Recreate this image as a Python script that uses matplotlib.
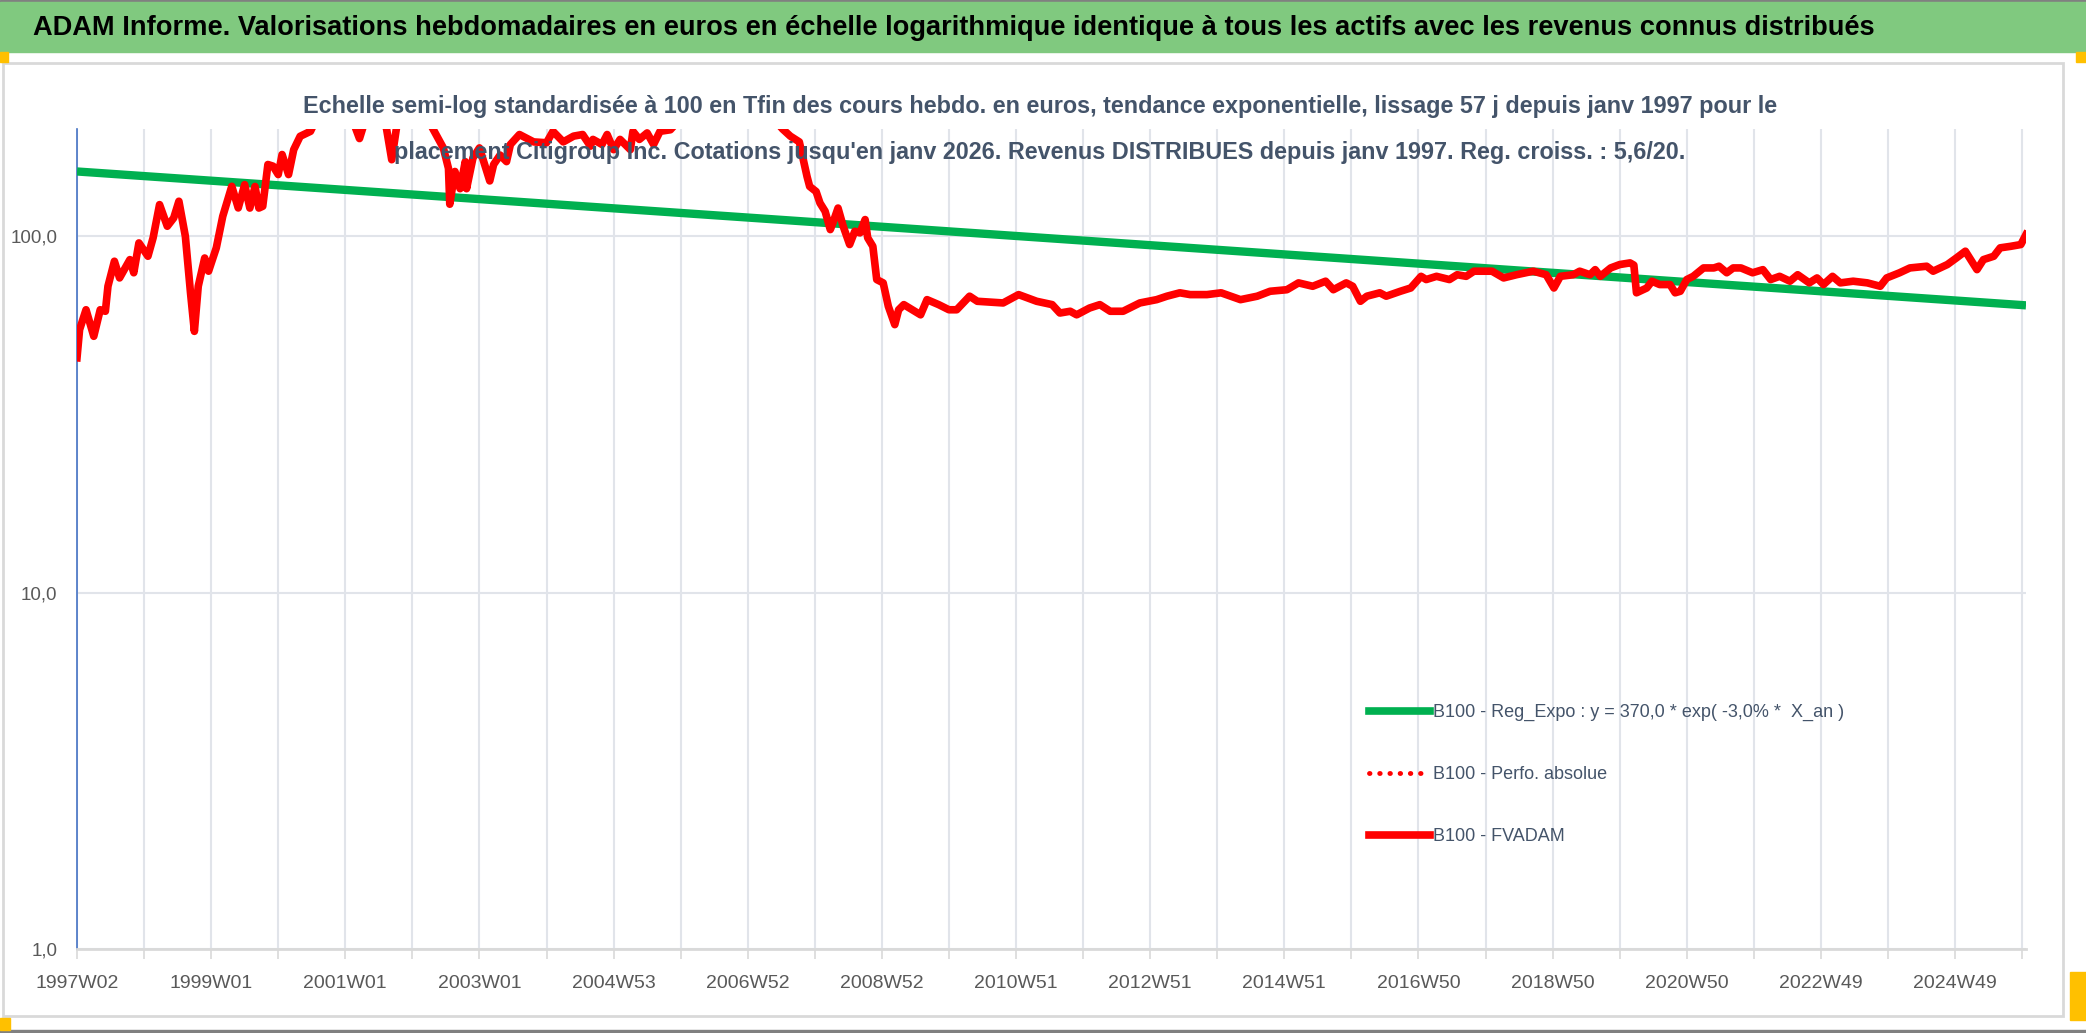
import matplotlib.pyplot as plt
from matplotlib.patches import Rectangle
from matplotlib.lines import Line2D
from matplotlib.ticker import FixedLocator, FuncFormatter, NullLocator

plt.rcParams['font.family'] = ['Liberation Sans', 'DejaVu Sans']

# ---------------------------------------------
#  Data
# ---------------------------------------------
# semaine (index depuis 1997W02) et valeur B100 - FVADAM
fv_week = [0, 2, 7, 13, 18, 22, 24, 29, 33, 41, 44, 48, 55, 59, 64, 70, 75, 79, 84, 88,
           91, 94, 99, 102, 108, 113, 120, 125, 130, 134, 138, 141, 144, 148, 152, 156, 159, 164, 168, 173,
           181, 186, 200, 213, 219, 224, 233, 240, 244, 248, 258, 270, 276, 284, 288, 289, 293, 297, 301, 302,
           307, 312, 316, 320, 323, 328, 333, 336, 343, 354, 364, 369, 377, 385, 392, 398, 400, 407, 411, 416,
           421, 429, 431, 436, 442, 447, 452, 460, 471, 483, 499, 516, 526, 537, 547, 553, 560, 566, 568, 573,
           576, 580, 584, 586, 590, 594, 599, 603, 607, 611, 613, 617, 620, 625, 629, 634, 637, 641, 654, 659,
           668, 676, 682, 692, 698, 718, 730, 744, 756, 762, 770, 775, 785, 793, 801, 811, 824, 837, 845, 855,
           863, 876, 887, 902, 915, 925, 938, 947, 958, 968, 974, 984, 989, 995, 1000, 1010, 1015, 1026, 1034, 1042,
           1046, 1054, 1064, 1070, 1077, 1083, 1097, 1106, 1116, 1129, 1139, 1145, 1150, 1160, 1165, 1173, 1177, 1181, 1189, 1196,
           1204, 1207, 1209, 1217, 1221, 1227, 1235, 1239, 1243, 1248, 1253, 1261, 1269, 1273, 1279, 1284, 1290, 1299, 1307, 1313,
           1320, 1328, 1334, 1343, 1349, 1354, 1361, 1367, 1377, 1388, 1398, 1403, 1413, 1421, 1434, 1439, 1450, 1457, 1464, 1473,
           1478, 1486, 1491, 1499, 1507, 1511]
fv_val = [45.6, 54.7, 62.2, 52.4, 62.2, 61.6, 72.4, 85.1, 76.4, 86.0, 79.0, 95.8, 87.9, 99.0, 122.7, 106.7, 112.6, 125.4, 100.0, 69.4,
          54.1, 72.4, 86.9, 79.8, 92.8, 113.8, 138.1, 120.1, 139.6, 120.0, 138.0, 120.0, 121.4, 159.0, 157.3, 149.0, 169.6, 149.0, 175.0, 190.8,
          197.0, 215.0, 240.0, 215.0, 188.0, 215.0, 240.0, 200.0, 164.0, 205.0, 235.0, 220.0, 200.0, 177.0, 155.0, 123.0, 152.0, 136.0, 162.0, 136.0,
          166.0, 177.0, 159.0, 143.0, 159.0, 169.0, 162.0, 181.0, 193.0, 184.0, 183.0, 197.0, 184.0, 191.0, 193.0, 179.0, 187.0, 181.0, 193.0, 175.0,
          187.0, 175.0, 197.0, 187.0, 195.0, 181.0, 197.0, 199.0, 220.0, 240.0, 260.0, 205.0, 240.0, 220.0, 200.0, 191.0, 184.0, 147.0, 138.0, 133.5,
          124.0, 117.5, 104.4, 109.0, 120.0, 106.7, 94.8, 103.3, 102.2, 111.4, 99.0, 93.7, 75.6, 74.0, 63.6, 56.5, 62.2, 64.3, 60.2, 66.4,
          64.3, 62.2, 62.2, 67.9, 65.7, 65.0, 68.6, 65.7, 64.3, 60.9, 61.6, 60.2, 62.9, 64.3, 61.6, 61.6, 65.0, 66.4, 67.9, 69.4,
          68.6, 68.6, 69.4, 66.4, 67.9, 70.1, 70.8, 74.0, 72.4, 74.8, 70.8, 74.0, 72.4, 65.7, 67.9, 69.4, 67.9, 70.1, 71.6, 77.2,
          75.6, 77.2, 75.6, 78.0, 77.2, 79.8, 79.8, 76.4, 78.0, 79.8, 78.0, 71.6, 77.2, 78.0, 79.8, 78.0, 80.6, 77.2, 81.5, 83.3,
          84.2, 83.0, 69.4, 71.6, 74.8, 73.2, 73.2, 69.4, 70.1, 75.6, 77.2, 81.5, 81.5, 82.4, 79.0, 81.5, 81.5, 79.0, 80.6, 75.6,
          77.2, 74.8, 78.0, 74.0, 76.4, 73.2, 77.2, 74.0, 74.8, 74.0, 72.4, 76.4, 79.0, 81.5, 82.4, 79.8, 83.3, 86.9, 90.8, 80.6,
          86.0, 87.9, 92.8, 93.7, 94.8, 101.1]

# Reg_Expo : y = 370,0 * exp(-3,0% * X_an)  -> valeurs lues aux extremites
reg_week = [0, 1511]
reg_val = [152.0, 64.0]

x_labels = ['1997W02', '1999W01', '2001W01', '2003W01', '2004W53', '2006W52', '2008W52', '2010W51',
            '2012W51', '2014W51', '2016W50', '2018W50', '2020W50', '2022W49', '2024W49']

legend_labels = ['B100 - Reg_Expo : y = 370,0 * exp( -3,0% *  X_an )',
                 'B100 - Perfo. absolue',
                 'B100 - FVADAM']

title = ("ADAM Informe. Valorisations hebdomadaires en euros en échelle logarithmique "
         "identique à tous les actifs avec les revenus connus distribués")
sub1 = ("Echelle semi-log standardisée à 100 en Tfin des cours hebdo. en euros, tendance exponentielle, "
        "lissage 57 j depuis janv 1997 pour le")
sub2 = ("placement Citigroup Inc. Cotations jusqu'en janv 2026. Revenus DISTRIBUES depuis janv 1997. "
        "Reg. croiss. : 5,6/20.")

# ---------------------------------------------
#  Figure
# ---------------------------------------------
W, H = 2086, 1033
fig = plt.figure(figsize=(W / 100, H / 100), dpi=100)


def rect(x0, y0, x1, y1, **kw):
    # rectangle en pixels (origine en haut a gauche)
    r = Rectangle((x0 / W, 1 - y1 / H), (x1 - x0) / W, (y1 - y0) / H,
                  transform=fig.transFigure, **kw)
    fig.add_artist(r)


rect(0, 0, W, 2, color='#808080', zorder=0)
rect(0, 2, W, 52, color='#80C97F', zorder=0)
rect(3, 63, 2063, 1016, fill=False, ec='#D9D9D9', lw=2, zorder=0)
rect(0, 1030, W, H, color='#808080', zorder=0)
rect(0, 52, 8, 62, color='#FFC000', zorder=1)
rect(2076, 52, W, 62, color='#FFC000', zorder=1)
rect(0, 1018, 10, 1030, color='#FFC000', zorder=1)
rect(2070, 972, W, 1020, color='#FFC000', zorder=1)

fig.text(33 / W, 1 - 28 / H, title, ha='left', va='center', fontsize=19.6,
         fontweight='bold', color='black')
fig.text(1040 / W, 1 - 106 / H, sub1, ha='center', va='center', fontsize=16.8,
         fontweight='bold', color='#44546A', zorder=5)
fig.text(1040 / W, 1 - 152 / H, sub2, ha='center', va='center', fontsize=16.8,
         fontweight='bold', color='#44546A', zorder=5)

ax = fig.add_axes([77 / W, 1 - 949 / H, (2026 - 77) / W, (949 - 129) / H])
ax.set_yscale('log')
ax.set_ylim(1, 200)
ax.set_xlim(0, 1511)

ax.plot(reg_week, reg_val, color='#00B050', lw=6, solid_capstyle='butt', zorder=3)
ax.plot(fv_week, fv_val, color='#FF0000', lw=5.5, solid_joinstyle='round', zorder=4)

# axes
ax.yaxis.set_major_locator(FixedLocator([1, 10, 100]))
ax.yaxis.set_minor_locator(NullLocator())
ax.yaxis.set_major_formatter(FuncFormatter(lambda v, p: f"{v:.1f}".replace('.', ',')))
grid_pos = list(range(0, 1512, 52))
ax.set_xticks(grid_pos)
ax.set_xticklabels([x_labels[i // 2] if i % 2 == 0 else '' for i in range(len(grid_pos))])
ax.tick_params(axis='y', length=0, pad=14, labelsize=13.5, labelcolor='#595959')
ax.tick_params(axis='x', length=7, width=1.2, color='#D9D9D9', pad=12, labelsize=14,
               labelcolor='#595959')
ax.grid(True, color='#E1E4EA', lw=1.5)
ax.set_axisbelow(True)
for s in ['top', 'right']:
    ax.spines[s].set_visible(False)
ax.spines['left'].set_color('#4472C4')
ax.spines['left'].set_linewidth(1.2)
ax.spines['bottom'].set_color('#D9D9D9')
ax.spines['bottom'].set_linewidth(2)

handles = [Line2D([], [], color='#00B050', lw=5.5),
           Line2D([], [], color='#FF0000', lw=3.5, ls=(0, (0.1, 2.0)), dash_capstyle='round'),
           Line2D([], [], color='#FF0000', lw=5.5)]
fig.legend(handles, legend_labels, loc='upper left', bbox_to_anchor=(1369 / W, 1 - 704 / H),
           frameon=False, fontsize=13, labelcolor='#44546A', handlelength=3.4,
           handletextpad=0.15, labelspacing=2.5, borderpad=0, borderaxespad=0)

fig.savefig('out.png', dpi=100, facecolor='white')
